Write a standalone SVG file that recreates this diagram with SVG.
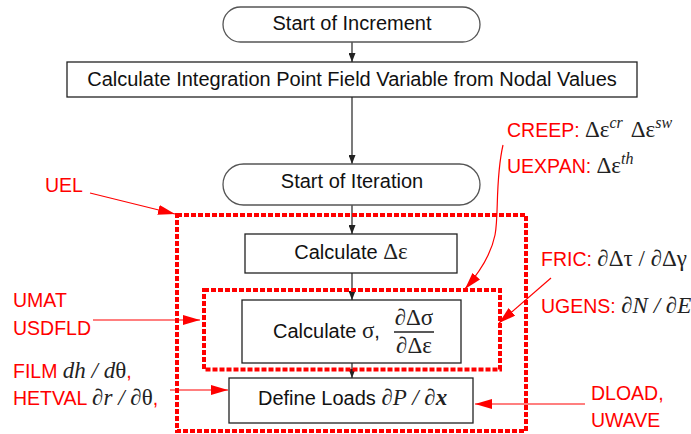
<svg xmlns="http://www.w3.org/2000/svg" width="691" height="434" viewBox="0 0 691 434">
<defs>
<style>
.box{fill:#fff;stroke:#222;stroke-width:1.3}
.term{fill:#fff;stroke:#555;stroke-width:1.3}
.t{font-family:"Liberation Sans",Arial,sans-serif;font-size:20px;fill:#111}
.m{font-family:"Liberation Serif","Times New Roman",serif;font-size:23px;fill:#222}
.i{font-style:italic}
.sup{font-family:"Liberation Serif","Times New Roman",serif;font-size:16px;font-style:italic;fill:#222}
.r{font-family:"Liberation Sans",Arial,sans-serif;font-size:19.5px;fill:#f00}
.flow{stroke:#222;stroke-width:1.2;fill:none;marker-end:url(#ab)}
.ra{stroke:#f00;stroke-width:1.2;fill:none;marker-end:url(#ar)}
.dash{fill:none;stroke:#f00;stroke-width:4;stroke-dasharray:5 2}
</style>
<marker id="ab" markerUnits="userSpaceOnUse" markerWidth="9" markerHeight="7" refX="9" refY="3.5" orient="auto"><path d="M0,0 L9,3.5 L0,7 z" fill="#222"/></marker>
<marker id="ar" markerUnits="userSpaceOnUse" markerWidth="17" markerHeight="10" refX="17" refY="5" orient="auto"><path d="M0,0 L17,5 L0,10 z" fill="#f00"/></marker>
</defs>
<rect width="691" height="434" fill="#fff"/>

<g id="connectors">
<line class="flow" x1="352" y1="42" x2="352" y2="62"/>
<line class="flow" x1="352" y1="97" x2="352" y2="164"/>
<line class="flow" x1="352" y1="205" x2="352" y2="234"/>
<line class="flow" x1="352" y1="273" x2="352" y2="300"/>
<line class="flow" x1="352" y1="363" x2="352" y2="378"/>
<line class="ra" x1="90" y1="193" x2="175" y2="214"/>
<line class="ra" x1="93" y1="320" x2="200" y2="320"/>
<line class="ra" x1="170" y1="390" x2="228" y2="390"/>
<line class="ra" x1="585" y1="404" x2="475" y2="404"/>
<line class="ra" x1="551" y1="278" x2="499" y2="323"/>
<path class="ra" d="M503,145 C495,180 499,215 495,235 C491,255 480,272 465,289"/>
</g>

<g id="uel-region"><rect class="dash" x="177" y="215" width="349" height="216"/></g>
<g id="umat-region"><rect class="dash" x="204" y="290" width="296" height="79.5"/></g>

<g id="start-increment">
<rect class="term" x="223" y="7" width="257" height="35" rx="17.5"/>
<text class="t" x="352" y="30" text-anchor="middle">Start of Increment</text>
</g>
<g id="calc-field">
<rect class="box" x="67" y="62" width="570" height="35"/>
<text class="t" x="352" y="86" text-anchor="middle">Calculate Integration Point Field Variable from Nodal Values</text>
</g>
<g id="start-iteration">
<rect class="term" x="223" y="164" width="257" height="41" rx="20.5"/>
<text class="t" x="352" y="188" text-anchor="middle">Start of Iteration</text>
</g>
<g id="calc-strain">
<rect class="box" x="245" y="234" width="212" height="39"/>
<text x="351" y="259" text-anchor="middle"><tspan class="t">Calculate </tspan><tspan class="m">Δε</tspan></text>
</g>
<g id="calc-stress">
<rect class="box" x="242" y="300" width="219" height="63"/>
<text x="273" y="338"><tspan class="t">Calculate </tspan><tspan class="m">σ</tspan><tspan class="t">,</tspan></text>
<text class="m" x="414" y="325" text-anchor="middle">∂Δσ</text>
<line x1="394" y1="332" x2="434" y2="332" stroke="#222" stroke-width="1.4"/>
<text class="m" x="414" y="353" text-anchor="middle">∂Δε</text>
</g>
<g id="define-loads">
<rect class="box" x="229" y="378" width="244" height="45"/>
<text x="258" y="405"><tspan class="t">Define Loads </tspan><tspan class="m i">∂P</tspan><tspan class="m i" font-size="20"> / </tspan><tspan class="m i">∂</tspan><tspan class="m i" font-weight="bold">x</tspan></text>
</g>

<g id="labels">
<text class="r" x="45" y="192">UEL</text>
<text x="507" y="137"><tspan class="r">CREEP: </tspan><tspan class="m">Δε</tspan><tspan class="sup" dy="-9">cr</tspan><tspan class="m" dy="9" dx="8">Δε</tspan><tspan class="sup" dy="-9">sw</tspan></text>
<text x="507" y="173"><tspan class="r">UEXPAN: </tspan><tspan class="m">Δε</tspan><tspan class="sup" dy="-9">th</tspan></text>
<text class="r" x="541" y="266">FRIC: <tspan class="m">∂Δτ</tspan><tspan class="m" font-size="20"> / </tspan><tspan class="m">∂Δγ</tspan></text>
<text class="r" x="541" y="313">UGENS: <tspan class="m i">∂N</tspan><tspan class="m i" font-size="20"> / </tspan><tspan class="m i">∂E</tspan></text>
<text class="r" x="13" y="307">UMAT</text>
<text class="r" x="13" y="335">USDFLD</text>
<text x="13" y="378"><tspan class="r">FILM </tspan><tspan class="m i">dh</tspan><tspan class="m i" font-size="20"> / </tspan><tspan class="m i">d</tspan><tspan class="m">θ</tspan><tspan class="r">,</tspan></text>
<text x="13" y="405"><tspan class="r">HETVAL </tspan><tspan class="m i">∂r</tspan><tspan class="m i" font-size="20"> / </tspan><tspan class="m i">∂</tspan><tspan class="m">θ</tspan><tspan class="r">,</tspan></text>
<text class="r" x="591" y="400">DLOAD,</text>
<text class="r" x="591" y="427">UWAVE</text>
</g>
</svg>
